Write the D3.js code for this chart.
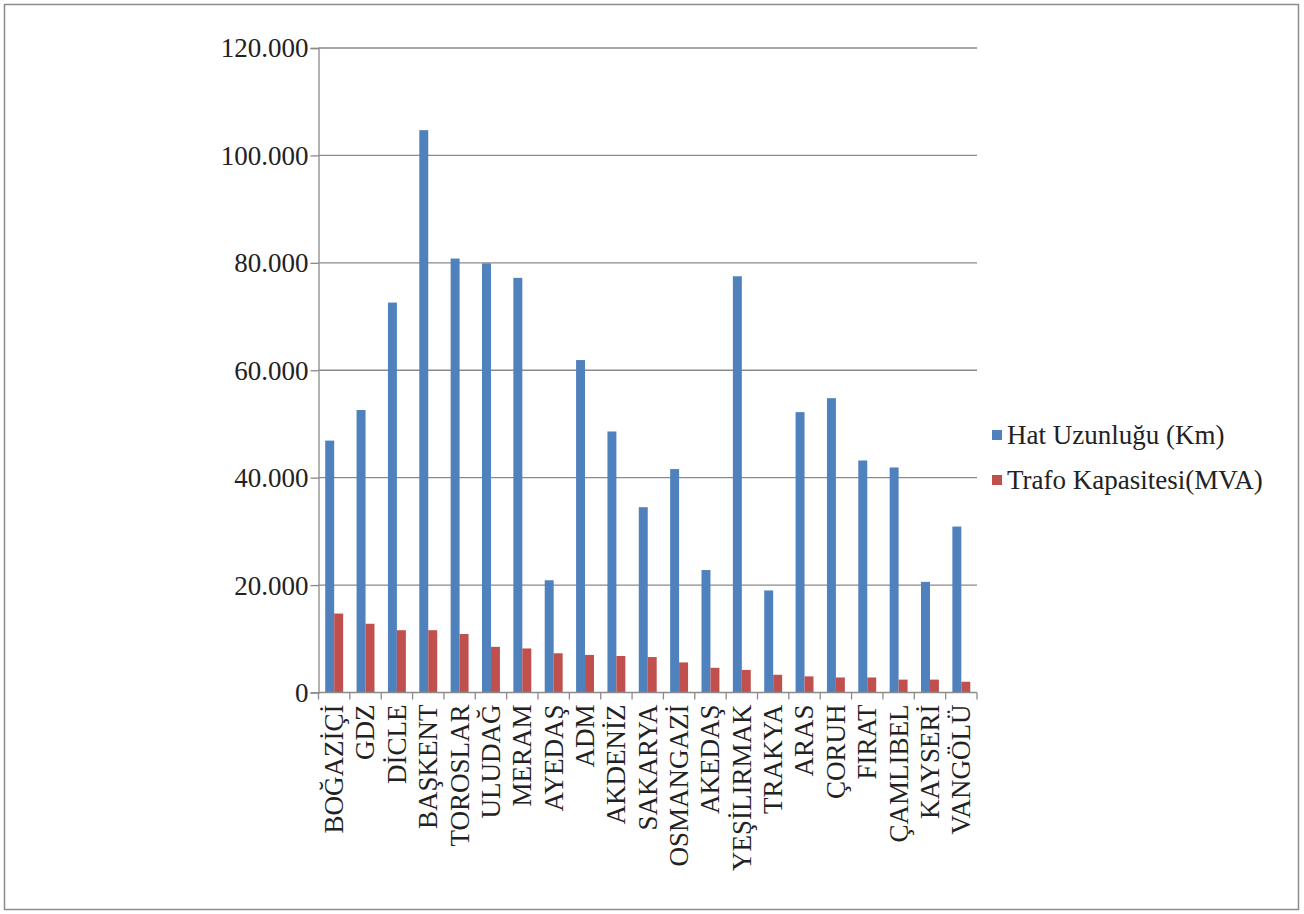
<!DOCTYPE html>
<html><head><meta charset="utf-8">
<script src="https://cdn.jsdelivr.net/npm/d3@7"></script>
<style>body{margin:0;background:#fff}svg{display:block}</style>
</head><body>
<script>
const categories = ["BOĞAZİÇİ","GDZ","DİCLE","BAŞKENT","TOROSLAR","ULUDAĞ","MERAM","AYEDAŞ","ADM","AKDENİZ","SAKARYA","OSMANGAZİ","AKEDAŞ","YEŞİLIRMAK","TRAKYA","ARAS","ÇORUH","FIRAT","ÇAMLIBEL","KAYSERİ","VANGÖLÜ"];
const hatUzunlugu = [46900,52600,72600,104700,80800,79900,77200,20900,61900,48600,34500,41600,22800,77500,19000,52200,54800,43200,41900,20600,30900];
const trafoKapasitesi = [14700,12800,11600,11600,10900,8500,8200,7300,7000,6800,6600,5600,4600,4200,3300,3000,2800,2800,2400,2400,2000];
const seriesNames = ["Hat Uzunluğu (Km)","Trafo Kapasitesi(MVA)"];
const seriesColors = ["#4f81bd","#c0504d"];
const yTicks = [0,20000,40000,60000,80000,100000,120000];

const W=1304,H=914;
const svg=d3.select("body").append("svg").attr("width",W).attr("height",H);
svg.append("rect").attr("x",4.5).attr("y",4.5).attr("width",1294).attr("height",905)
  .attr("fill","#fff").attr("stroke","#8c8c8c").attr("stroke-width",1.5);

const L=318.5,R=977,T=48,B=692.5;
const x=d3.scaleBand().domain(categories).range([L,R]).paddingInner(0).paddingOuter(0);
const y=d3.scaleLinear().domain([0,120000]).range([B,T]);
const bw=x.bandwidth()/3.5, pad=bw*0.75;
const fmt=v=>v===0?"0":d3.format(",")(v).replace(/,/g,".");
const font="'Liberation Serif','Times New Roman',serif";

// gridlines
svg.append("g").selectAll("line").data(yTicks.filter(d=>d>0)).join("line")
  .attr("x1",L).attr("x2",R).attr("y1",d=>y(d)).attr("y2",d=>y(d))
  .attr("stroke","#8a8a8a").attr("stroke-width",1.3);

// bars
const series=[hatUzunlugu,trafoKapasitesi];
series.forEach((vals,si)=>{
  svg.append("g").selectAll("rect").data(categories).join("rect")
    .attr("x",(c)=>x(c)+pad+si*bw).attr("width",bw)
    .attr("y",(c,i)=>y(vals[i])).attr("height",(c,i)=>B-y(vals[i]))
    .attr("fill",seriesColors[si]);
});

// y axis
const ya=svg.append("g").attr("transform",`translate(${L},0)`)
  .call(d3.axisLeft(y).tickValues(yTicks).tickFormat(fmt).tickSize(8).tickPadding(4));
ya.select(".domain").attr("stroke","#8a8a8a").attr("stroke-width",1.3);
ya.selectAll(".tick line").attr("stroke","#8a8a8a").attr("stroke-width",1.3);
ya.selectAll(".tick text").attr("font-family",font).attr("font-size",27).attr("fill","#222")
  .attr("text-anchor","end").attr("x",-10).attr("dy","0.33em");

// x axis
const xa=svg.append("g").attr("transform",`translate(0,${B})`);
xa.append("line").attr("x1",L).attr("x2",R).attr("stroke","#8a8a8a").attr("stroke-width",1.3);
const bounds=categories.map(c=>x(c)).concat([R]);
xa.selectAll("line.t").data(bounds).join("line").attr("class","t")
  .attr("x1",d=>d).attr("x2",d=>d).attr("y1",0).attr("y2",7)
  .attr("stroke","#8a8a8a").attr("stroke-width",1.3);
xa.selectAll("text").data(categories).join("text")
  .attr("transform",c=>`translate(${x(c)+x.bandwidth()/2},12) rotate(-90)`)
  .attr("text-anchor","end").attr("dy","0.33em")
  .attr("font-family",font).attr("font-size",27).attr("fill","#222").text(c=>c);

// legend
const lg=svg.append("g");
seriesNames.forEach((n,i)=>{
  const yy=435+i*45;
  lg.append("rect").attr("x",992).attr("y",yy-5).attr("width",10).attr("height",10).attr("fill",seriesColors[i]);
  lg.append("text").attr("x",1007).attr("y",yy).attr("dy","0.33em")
    .attr("font-family",font).attr("font-size",27).attr("fill","#222").text(n);
});
</script>
</body></html>
